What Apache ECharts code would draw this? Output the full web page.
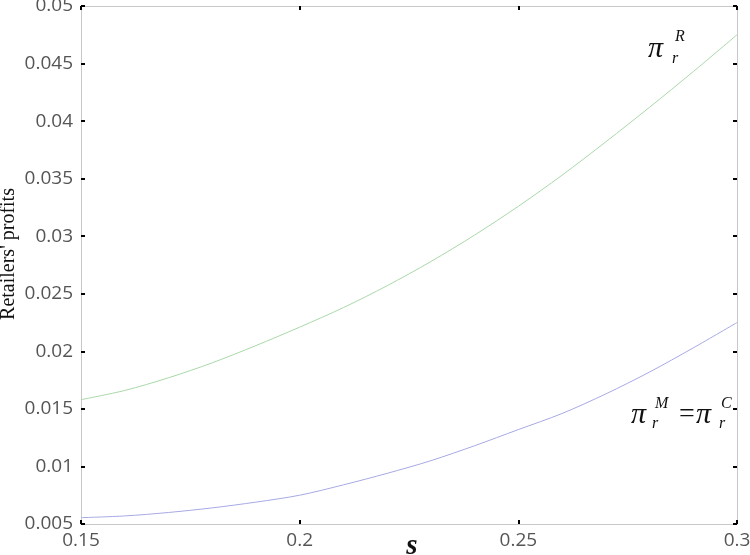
<!DOCTYPE html>
<html>
<head>
<meta charset="utf-8">
<script src="https://cdn.jsdelivr.net/npm/echarts@6/dist/echarts.min.js"></script>
<style>
  html, body { margin: 0; padding: 0; background: #fff; }
  #chart { width: 750px; height: 555px; }
</style>
</head>
<body>
<div id="chart"></div>
<script>
// s values (x axis)
const sValues = [0.15, 0.16, 0.17, 0.18, 0.19, 0.20, 0.21, 0.22, 0.23, 0.24, 0.25, 0.26, 0.27, 0.28, 0.29, 0.30]
// retailers' profit, regime R (green, upper)
const profitR = [0.0158, 0.0166, 0.0177, 0.0190, 0.0205, 0.0221, 0.0238, 0.0257, 0.0278, 0.0301, 0.0326, 0.0353, 0.0382, 0.0412, 0.0443, 0.0475]
// retailers' profit, regimes M = C (blue, lower)
const profitMC = [0.00555, 0.0057, 0.0060, 0.0064, 0.0069, 0.0075, 0.0084, 0.0094, 0.0105, 0.0118, 0.0132, 0.0146, 0.0163, 0.0182, 0.0203, 0.0225]

const chart = echarts.init(document.getElementById('chart'))

const tickFont = { fontFamily: '"Open Sans"', fontWeight: 'normal', fontSize: 19, color: '#555' }
const serif = 'Liberation Serif, DejaVu Serif, serif'

// label pieces: [text, x, y, fontSize]
const labelParts = [
  ['π', 648, 49, 30],
  ['R', 675, 37, 16],
  ['r', 672, 59, 16],
  ['π', 631, 415, 30],
  ['M', 655, 404, 16],
  ['r', 652, 424, 16],
  ['=', 679, 415, 28],
  ['π', 696, 415, 30],
  ['C', 721, 404, 16],
  ['r', 719, 424, 16]
]

const axisLine = { show: true, onZero: false, lineStyle: { color: '#c8c8c8', width: 1 } }
const axisTick = { show: true, inside: true, length: 4, lineStyle: { color: '#000', width: 2 } }

const graphics = labelParts.map(p => ({
  type: 'text',
  x: p[1],
  y: p[2],
  style: {
    text: p[0],
    fontFamily: serif,
    fontStyle: p[0] === '=' ? 'normal' : 'italic',
    fontSize: p[3],
    fill: '#111',
    textVerticalAlign: 'middle'
  }
}))
// axis titles
graphics.push({
  type: 'text',
  x: 9,
  y: 254,
  rotation: Math.PI / 2,
  style: { text: "Retailers' profits", fontFamily: serif, fontSize: 20, fill: '#111', textAlign: 'center', textVerticalAlign: 'middle' }
})
graphics.push({
  type: 'text',
  x: 412,
  y: 547,
  style: { text: 's', fontFamily: serif, fontSize: 29, fontStyle: 'italic', fontWeight: 'bold', fill: '#111', textAlign: 'center', textVerticalAlign: 'middle' }
})

const option = {
  animation: false,
  grid: { left: 81, right: 13, top: 6, bottom: 31, containLabel: false, outerBoundsMode: 'none' },
  xAxis: [
    {
      type: 'value',
      min: 0.15,
      max: 0.3,
      interval: 0.05,
      axisLine: axisLine,
      axisTick: axisTick,
      axisLabel: Object.assign({ margin: 7, formatter: v => String(+v.toFixed(2)) }, tickFont),
      splitLine: { show: false }
    },
    {
      type: 'value',
      position: 'top',
      min: 0.15,
      max: 0.3,
      interval: 0.05,
      axisLine: axisLine,
      axisTick: axisTick,
      axisLabel: { show: false },
      splitLine: { show: false }
    }
  ],
  yAxis: [
    {
      type: 'value',
      min: 0.005,
      max: 0.05,
      interval: 0.005,
      axisLine: axisLine,
      axisTick: axisTick,
      axisLabel: Object.assign({ margin: 8, formatter: v => String(+v.toFixed(3)) }, tickFont),
      splitLine: { show: false }
    },
    {
      type: 'value',
      position: 'right',
      min: 0.005,
      max: 0.05,
      interval: 0.005,
      axisLine: axisLine,
      axisTick: axisTick,
      axisLabel: { show: false },
      splitLine: { show: false }
    }
  ],
  series: [
    {
      name: 'R',
      type: 'line',
      data: sValues.map((s, i) => [s, profitR[i]]),
      smooth: 0.3,
      showSymbol: false,
      lineStyle: { color: '#a9d8a9', width: 1 }
    },
    {
      name: 'MC',
      type: 'line',
      data: sValues.map((s, i) => [s, profitMC[i]]),
      smooth: 0.3,
      showSymbol: false,
      lineStyle: { color: '#a7a9e4', width: 1 }
    }
  ],
  graphic: graphics
}

chart.setOption(option)
</script>
</body>
</html>
